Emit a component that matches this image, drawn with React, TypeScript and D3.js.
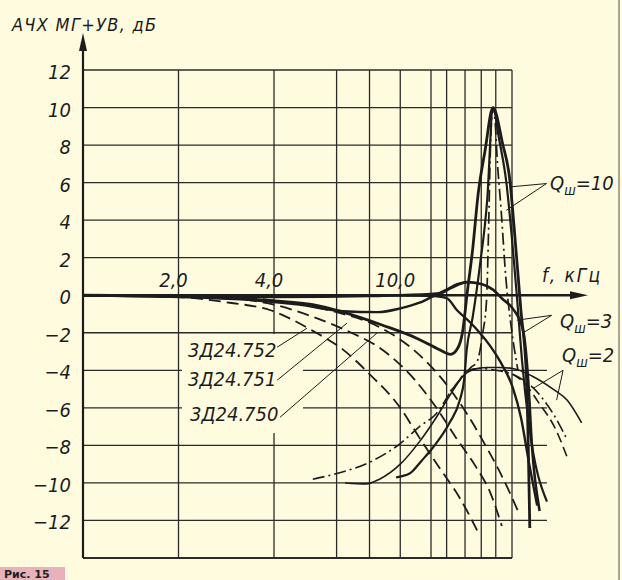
import React from "react";
import * as d3 from "d3";

// axis ticks / grid
const yTickValues = [12, 10, 8, 6, 4, 2, 0, -2, -4, -6, -8, -10, -12];
const xGridValues = [2, 4, 6.3, 8, 10, 12.5, 14, 16, 18, 20];
const xLabelValues = [2, 4, 10];
const xLabelTexts = ["2,0", "4,0", "10,0"];

// head responses (dashed)
const head752 = [[1, 0], [2, -0.1], [2.9, -0.4], [3.9, -0.8], [5.3, -1.9], [6.6, -2.9], [8, -4.2], [10, -6.0], [11.5, -7.6], [13.3, -9.2], [15.4, -10.8], [17.8, -12.8]];
const head751 = [[1, 0], [2.5, -0.1], [4, -0.5], [5.2, -1.1], [6.8, -1.9], [8.6, -2.8], [11.1, -4.5], [13, -6.0], [15, -7.6], [17.4, -9.2], [19.2, -10.5], [20.9, -12.3]];
const head750 = [[1, 0], [3, -0.1], [4.5, -0.4], [6.3, -0.9], [8.6, -1.7], [11, -2.9], [13.6, -4.5], [16.2, -6.3], [18.7, -8.1], [21, -9.7], [23.5, -11.5]];

// total responses (thick solid)
const totalBump = [[1, 0], [4, -0.05], [10, 0], [13.3, 0.1], [14.5, 0.4], [16.2, 0.7], [18, 0.6], [19.6, 0.3], [21, -0.2], [22.6, -0.7], [24.4, -1.9], [25.3, -4.5], [26, -8], [27.5, -11.5]];
const totalDip = [[1, 0], [2, -0.05], [4, -0.3], [5.3, -0.5], [6.6, -0.9], [8.8, -1.6], [11.3, -2.3], [13.3, -2.9], [14.4, -3.15], [15.2, -2.8], [15.7, -2.0], [16.3, 0.3], [16.9, 2.4], [17.6, 5.4], [18.5, 7.7], [19.6, 10], [21, 8.1], [22.2, 6.0], [22.8, 3.8], [24, -0.8], [25, -4.4], [25.6, -12.4]];
const totalFlat = [[1, 0], [4, -0.1], [8, -0.05], [10, 0], [12.7, -0.05], [14, -0.15], [15.1, -0.8], [16.5, -1.4], [17.8, -2.0], [19.2, -2.7], [20.6, -3.5], [22.6, -4.9], [24, -6.5], [25.5, -9], [27, -11.2]];
const totalLow = [[1, 0], [3, -0.2], [4.8, -0.5], [6.6, -0.85], [8.5, -0.9], [10, -0.7], [11.5, -0.4], [12.7, -0.05], [14, 0.3], [15.2, 0.6], [16.2, 0.7]];

// correction curves
const corrQ10 = [[9.7, -9.7], [10.7, -9.5], [11.7, -8.8], [12.7, -8.1], [14.3, -6.8], [15.4, -5.6], [15.9, -4.5], [16.2, -2.9], [16.9, -1.2], [17.8, 1.5], [18.8, 5.1], [19.6, 10], [20.5, 8.3], [21.6, 6], [22.5, 3], [23.3, 0], [24.2, -3.5], [25.5, -7], [29, -11]];
const corrQ10dd = [[14.6, -5.0], [15.8, -4.3], [16.8, -3.8], [17.4, -3.6], [18.2, -2.0], [18.7, -0.3], [19.0, 3.8], [19.2, 7.3], [19.6, 10], [19.9, 9.3], [20.2, 7.3], [20.8, 4.5], [21.5, 1.0], [22.5, -2], [23.5, -4.0]];
const corrQ2 = [[6.7, -10], [7.8, -10.05], [8.6, -9.8], [10, -9.0], [11.5, -7.8], [13, -6.5], [14.5, -5.2], [15.8, -4.3], [17, -3.95], [18.7, -3.85], [20.5, -3.85], [22.6, -3.9], [26, -4.3], [30.3, -5.0], [33.6, -5.6], [37.3, -6.8]];
const corrQ2dd = [[5.3, -9.8], [6.3, -9.5], [8, -8.9], [10, -7.9], [11.5, -7.0], [13, -6.3], [14.6, -5.0], [15.4, -4.5], [16.2, -4.0], [18, -3.9], [20, -4.0], [22.5, -4.2], [26.1, -4.9], [30.3, -6.3], [33.6, -7.7]];
const corrQ2dash = [[22.6, -4.2], [25, -4.8], [27, -5.6], [31, -7.2], [33.7, -8.7]];

// leader lines: [fromF, fromDb, toF, toDb]
const leaders = [
  [4.09, -2.77, 5.08, -1.76],
  [4.09, -4.53, 6.79, -1.49],
  [4.18, -6.5, 8.44, -2.02],
  [28.9, 5.95, 22.14, 5.77],
  [28.9, 5.95, 21.6, 4.53],
  [30.0, -1.07, 23.3, -1.33],
  [30.0, -1.07, 24.3, -2.02],
  [32.6, -4.0, 26.2, -4.97],
  [32.6, -4.0, 31.1, -5.59],
];

const W = 622;
const H = 580;
const paper = "#fffbdf";
const ink = "#1c1c1c";
const font = "'DejaVu Sans Condensed', 'Liberation Sans', sans-serif";

export default function App() {
  const x = d3.scaleLog().domain([1, 22.5]).range([83, 512]);
  const y = d3.scaleLinear().domain([-14, 12]).range([558, 70]);
  const line = d3.line<number[]>()
    .x(d => x(d[0]))
    .y(d => y(d[1]))
    .curve(d3.curveMonotoneX);

  const series = [
    { d: head752, w: 1.8, dash: "12,6" },
    { d: head751, w: 1.8, dash: "12,6" },
    { d: head750, w: 1.8, dash: "12,6" },
    { d: corrQ2, w: 1.6, dash: null },
    { d: corrQ2dd, w: 1.6, dash: "12,4,2,4" },
    { d: corrQ2dash, w: 1.6, dash: "10,5" },
    { d: corrQ10, w: 2.2, dash: null },
    { d: corrQ10dd, w: 1.7, dash: "12,4,2,4" },
    { d: totalFlat, w: 2.4, dash: null },
    { d: totalLow, w: 2.4, dash: null },
    { d: totalBump, w: 2.6, dash: null },
    { d: totalDip, w: 2.8, dash: null },
  ];

  const labelStyle = { fontFamily: font, fontStyle: "italic", fontSize: 20, fill: ink } as const;

  return (
    <svg width={W} height={H} style={{ position: "absolute", left: 0, top: 0, background: paper }}>
      <rect width={W} height={H} fill={paper} />
      {/* page edge */}
      <line x1={619} x2={619} y1={0} y2={H} stroke="#8a8a80" strokeWidth={1.5} />

      {/* grid */}
      <g stroke="#2b2b2b" strokeWidth={1.3}>
        {xGridValues.map(v => (
          <line key={"gx" + v} x1={x(v)} x2={x(v)} y1={y(12)} y2={y(-14)} />
        ))}
        <line x1={x(22.5)} x2={x(22.5)} y1={y(12)} y2={y(-14)} />
        {yTickValues.filter(v => v !== 0).map(v => (
          <line key={"gy" + v} x1={x(1)} x2={v <= -4 ? x(29) : x(22.5)} y1={y(v)} y2={y(v)} />
        ))}
        <line x1={x(1)} x2={x(22.5)} y1={y(-14)} y2={y(-14)} strokeWidth={1.8} />
      </g>
      {/* gap in grid around head labels */}
      <rect x={182} y={334} width={121} height={99} fill={paper} />

      {/* curves */}
      <g fill="none" stroke={ink} strokeLinejoin="round">
        {series.map((s, i) => (
          <path key={i} d={line(s.d) ?? ""} strokeWidth={s.w} strokeDasharray={s.dash ?? undefined} />
        ))}
      </g>

      {/* axes */}
      <line x1={x(1)} x2={x(1)} y1={y(-14)} y2={44} stroke={ink} strokeWidth={2.2} />
      <path d={`M${x(1)},33 L${x(1) - 4},51 L${x(1) + 4},51 Z`} fill={ink} />
      <line x1={x(1)} x2={574} y1={y(0)} y2={y(0)} stroke={ink} strokeWidth={2.4} />
      <path d={`M588,${y(0)} L570,${y(0) - 4} L570,${y(0) + 4} Z`} fill={ink} />

      {/* y tick labels */}
      {yTickValues.map(v => (
        <text key={"yl" + v} x={71} y={y(v) + 9} textAnchor="end" style={labelStyle}>
          {v < 0 ? "\u2212" + Math.abs(v) : String(v)}
        </text>
      ))}
      {/* x tick labels */}
      {xLabelValues.map((v, i) => (
        <text key={"xl" + v} x={x(v) - 5} y={y(0) - 8} textAnchor="middle" style={labelStyle}>
          {xLabelTexts[i]}
        </text>
      ))}

      <text x={12} y={31} style={{ ...labelStyle, fontSize: 18 }} letterSpacing={1.3}>АЧХ МГ+УВ, дБ</text>
      <text x={542} y={282} style={{ ...labelStyle, fontSize: 19 }} letterSpacing={2}>f, кГц</text>

      {/* leaders */}
      <g stroke={ink} strokeWidth={1}>
        {leaders.map((l, i) => (
          <line key={"ld" + i} x1={x(l[0])} y1={y(l[1])} x2={x(l[2])} y2={y(l[3])} />
        ))}
      </g>

      <text x={188} y={357} style={labelStyle}>3Д24.752</text>
      <text x={188} y={386} style={labelStyle}>3Д24.751</text>
      <text x={190} y={421} style={labelStyle}>3Д24.750</text>

      <text x={550} y={190} style={labelStyle}>
        Q<tspan dy={5} fontSize={14}>ш</tspan><tspan dy={-5}>=10</tspan>
      </text>
      <text x={560} y={328} style={labelStyle}>
        Q<tspan dy={5} fontSize={14}>ш</tspan><tspan dy={-5}>=3</tspan>
      </text>
      <text x={562} y={362} style={labelStyle}>
        Q<tspan dy={5} fontSize={14}>ш</tspan><tspan dy={-5}>=2</tspan>
      </text>

      {/* figure caption tab */}
      <rect x={0} y={567} width={65} height={13} fill="#e9b2bb" />
      <text x={4} y={578} style={{ fontFamily: "'DejaVu Sans', sans-serif", fontWeight: "bold", fontSize: 11, fill: "#222" }}>Рис. 15</text>
    </svg>
  );
}
